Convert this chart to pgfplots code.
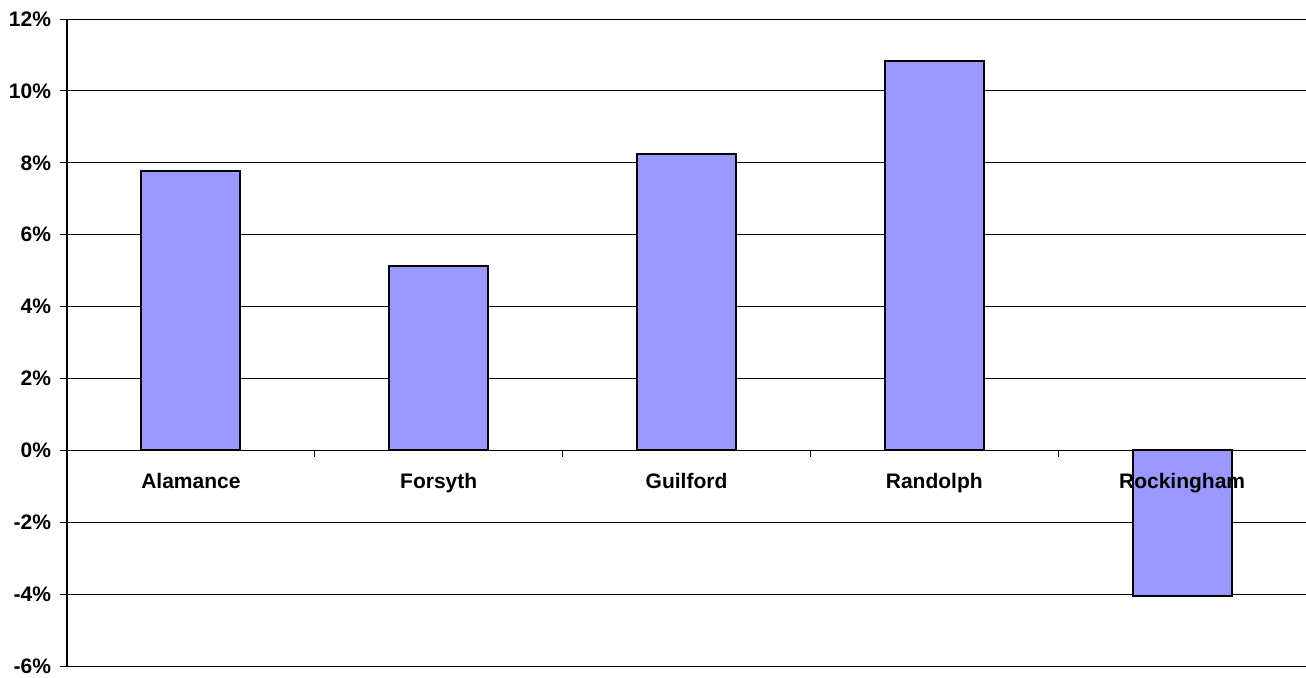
\documentclass[border=0pt]{standalone}
\usepackage{pgfplots}
\pgfplotsset{compat=1.18}
\usepackage{fontspec}
\setmainfont{Liberation Sans}
\definecolor{barblue}{HTML}{9999FF}
\begin{document}
\begin{tikzpicture}
\begin{axis}[
  at={(0,0)}, anchor=south west,
  scale only axis,
  width=619.5pt, height=323.5pt,
  xmin=-0.5, xmax=4.5,
  ymin=-6, ymax=12,
  ytick={-6,-4,...,12},
  yticklabel={\pgfmathprintnumber{\tick}\%},
  /pgf/number format/assume math mode=true,
  ymajorgrids,
  grid style={black, line width=0.5pt},
  axis x line=none,
  axis y line*=left,
  y axis line style={black, line width=0.75pt, -},
  ytick style={black, line width=0.5pt},
  tick align=outside,
  major tick length=3.5pt,
  yticklabel style={font=\fontsize{10.5}{12}\selectfont\bfseries, xshift=-1pt},
  xtick=\empty,
  clip=false,
]
\addplot[ybar, bar width=0.4, fill=barblue, draw=black, line width=1pt]
  coordinates {(0,7.78) (1,5.14) (2,8.25) (3,10.83) (4,-4.06)};
\draw[black, line width=0.5pt] (axis cs:-0.5,0) -- (axis cs:4.5,0);
\draw[black, line width=0.5pt] (axis cs:0.5,0) -- ++(0pt,-3.5pt);
\draw[black, line width=0.5pt] (axis cs:1.5,0) -- ++(0pt,-3.5pt);
\draw[black, line width=0.5pt] (axis cs:2.5,0) -- ++(0pt,-3.5pt);
\draw[black, line width=0.5pt] (axis cs:3.5,0) -- ++(0pt,-3.5pt);
\node[font=\fontsize{10.5}{12}\selectfont\bfseries, anchor=base, inner sep=0pt, yshift=-19.25pt] at (axis cs:0,0) {Alamance};
\node[font=\fontsize{10.5}{12}\selectfont\bfseries, anchor=base, inner sep=0pt, yshift=-19.25pt] at (axis cs:1,0) {Forsyth};
\node[font=\fontsize{10.5}{12}\selectfont\bfseries, anchor=base, inner sep=0pt, yshift=-19.25pt] at (axis cs:2,0) {Guilford};
\node[font=\fontsize{10.5}{12}\selectfont\bfseries, anchor=base, inner sep=0pt, yshift=-19.25pt] at (axis cs:3,0) {Randolph};
\node[font=\fontsize{10.5}{12}\selectfont\bfseries, anchor=base, inner sep=0pt, yshift=-19.25pt] at (axis cs:4,0) {Rockingham};
\end{axis}
\pgfresetboundingbox
\path (-33.5pt,-5.5pt) rectangle (619.5pt,333pt);
\end{tikzpicture}
\end{document}
